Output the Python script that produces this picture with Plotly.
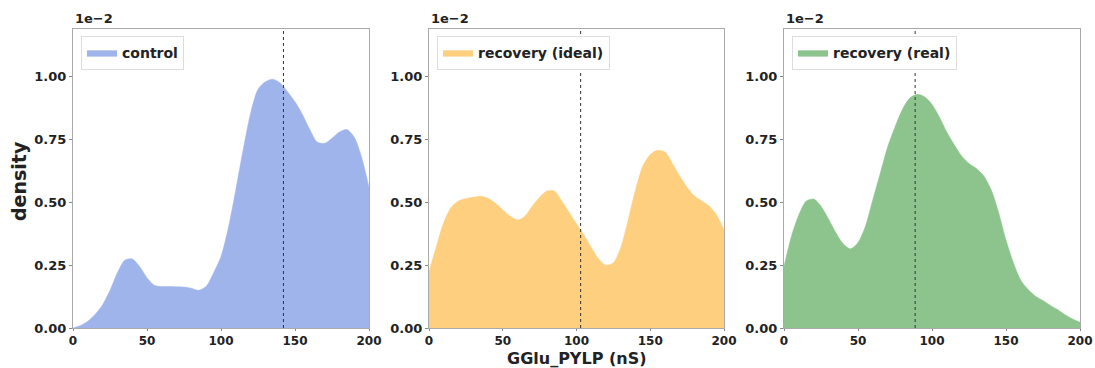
import plotly.graph_objects as go

# x grid (nS)
x_vals = [0, 5, 10, 15, 20, 25, 30, 35, 40, 45, 50, 55, 60, 65, 70, 75, 80, 85, 90, 95,
          100, 105, 110, 115, 120, 125, 130, 135, 140, 145, 150, 155, 160, 165, 170, 175,
          180, 185, 190, 195, 200]

# densities in units of 1e-2
control = [0.0, 0.01, 0.027, 0.055, 0.093, 0.15, 0.22, 0.27, 0.275, 0.245, 0.2, 0.17, 0.165,
           0.165, 0.164, 0.163, 0.158, 0.15, 0.166, 0.22, 0.285, 0.40, 0.55, 0.71, 0.855,
           0.95, 0.98, 0.99, 0.975, 0.94, 0.90, 0.85, 0.79, 0.74, 0.735, 0.755, 0.78, 0.79,
           0.76, 0.68, 0.56]
ideal = [0.225, 0.325, 0.42, 0.48, 0.505, 0.515, 0.52, 0.524, 0.516, 0.497, 0.47, 0.445, 0.43,
         0.445, 0.485, 0.52, 0.545, 0.545, 0.505, 0.46, 0.415, 0.37, 0.32, 0.275, 0.25, 0.26,
         0.32, 0.43, 0.55, 0.645, 0.69, 0.707, 0.70, 0.655, 0.605, 0.56, 0.525, 0.505, 0.485,
         0.45, 0.39]
real = [0.245, 0.365, 0.45, 0.505, 0.513, 0.485, 0.435, 0.38, 0.335, 0.315, 0.34, 0.405, 0.51,
        0.615, 0.72, 0.80, 0.87, 0.915, 0.93, 0.92, 0.89, 0.84, 0.78, 0.73, 0.685, 0.655,
        0.635, 0.605, 0.55, 0.46, 0.35, 0.26, 0.19, 0.153, 0.126, 0.109, 0.09, 0.073, 0.053,
        0.036, 0.023]

names = ["control", "recovery (ideal)", "recovery (real)"]
series = [control, ideal, real]
colors = ["#a0b4ec", "#fdcf7f", "#8dc48d"]
means = [142.2, 102.8, 88.6]

y_ticks = [0.0, 0.25, 0.5, 0.75, 1.0]
x_ticks = [0, 50, 100, 150, 200]

W, H = 1095, 368
x_dom = [(73, 369), (429, 724), (784, 1080)]
y_bot, y_top = 328, 29

fig = go.Figure()
font_b = dict(family="DejaVu Sans", weight="bold", color="#222")

for i in range(3):
    ax = "" if i == 0 else str(i + 1)
    leg = "legend" if i == 0 else f"legend{i+1}"
    fig.add_trace(go.Scatter(
        x=x_vals, y=series[i], name=names[i], mode="lines",
        line=dict(color=colors[i], width=0.5, shape="spline", smoothing=0.8),
        fill="tozeroy", fillcolor=colors[i],
        xaxis="x" + ax, yaxis="y" + ax, legend=leg, showlegend=True))
    fig.add_shape(type="line", xref="x" + ax, yref="y" + ax,
                  x0=means[i], x1=means[i], y0=0, y1=1.19,
                  line=dict(color="#333", width=1, dash="dot"))
    x0, x1 = x_dom[i]
    fig.update_layout(**{
        "xaxis" + ax: dict(domain=[x0 / W, x1 / W], range=[0, 200], anchor="y" + ax,
                           tickvals=x_ticks, ticks="outside", ticklen=2, tickcolor="#888",
                           showline=True, mirror=True, linecolor="#aaa", linewidth=1,
                           showgrid=False, zeroline=False, automargin=False,
                           tickfont=dict(size=12, **font_b)),
        "yaxis" + ax: dict(domain=[1 - y_bot / H, 1 - y_top / H], range=[0, 1.19],
                           anchor="x" + ax, tickvals=y_ticks, tickformat=".2f",
                           ticks="outside", ticklen=3, tickcolor="#888",
                           showline=True, mirror=True, linecolor="#aaa", linewidth=1,
                           showgrid=False, zeroline=False, automargin=False,
                           tickfont=dict(size=13, **font_b)),
        leg: dict(x=(x0 + 8) / W, y=1 - (y_top + 7) / H, xanchor="left", yanchor="top",
                  bgcolor="white", bordercolor="#ddd", borderwidth=1,
                  font=dict(size=14, **font_b), itemwidth=30,
                  tracegroupgap=0),
    })
    fig.add_annotation(text="1e\u22122", x=x0 / W, y=1 - (y_top - 1) / H,
                       xref="paper", yref="paper", xanchor="left", yanchor="bottom",
                       showarrow=False, font=dict(size=13, **font_b))

fig.add_annotation(text="density", x=19 / W, y=1 - 181 / H, xref="paper", yref="paper",
                   xanchor="center", yanchor="middle",
                   textangle=-90, showarrow=False, font=dict(size=19, **font_b))
fig.add_annotation(text="GGlu_PYLP (nS)", x=576 / W, y=1 - 358 / H, xref="paper",
                   yref="paper", xanchor="center", yanchor="middle",
                   showarrow=False, font=dict(size=16, **font_b))

fig.update_layout(width=W, height=H, margin=dict(l=0, r=0, t=0, b=0),
                  plot_bgcolor="white", paper_bgcolor="white")

fig.write_html("out.html")
